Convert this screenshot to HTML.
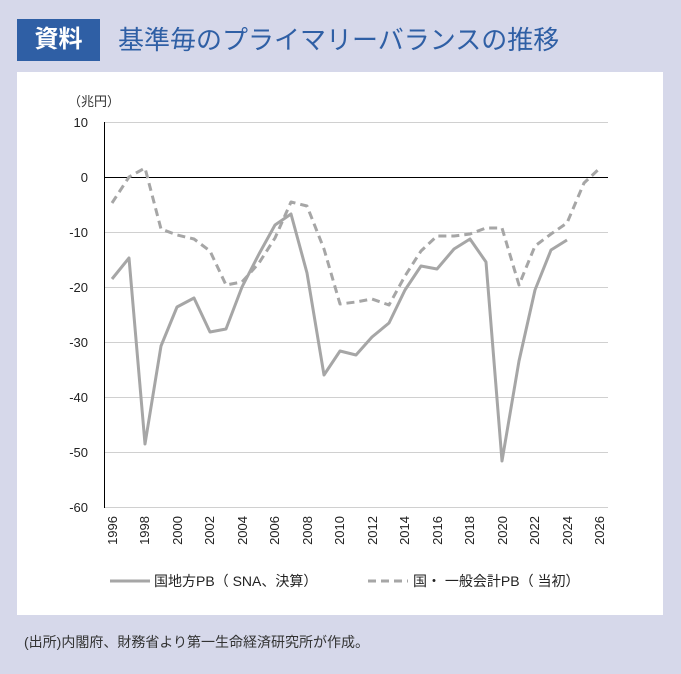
<!DOCTYPE html>
<html><head><meta charset="utf-8"><style>
body{margin:0;width:681px;height:674px;background:#d6d8ea;font-family:"Liberation Sans","Noto Sans CJK JP",sans-serif;position:relative;overflow:hidden}
.tag{position:absolute;left:17px;top:19px;width:83px;height:42px;background:#2f5fa5;color:#fff;font-size:24px;font-weight:bold;text-align:center;line-height:42px}
.title{position:absolute;left:118px;top:18px;font-size:26px;color:#2f5fa5;line-height:44px}
.panel{position:absolute;left:17px;top:72px;width:646px;height:543px;background:#fff}
.foot{position:absolute;left:24px;top:632px;font-size:14px;color:#333}
</style></head><body>
<div class="tag">資料</div>
<div class="title">基準毎のプライマリーバランスの推移</div>
<div class="panel"></div>
<svg width="681" height="674" style="position:absolute;left:0;top:0" font-family="Liberation Sans, Noto Sans CJK JP, sans-serif">
<text x="68" y="106" font-size="13" fill="#333">（兆円）</text>
<g stroke="#d0d0d0" stroke-width="1">
<line x1="104" y1="122.5" x2="608" y2="122.5"/><line x1="104" y1="232.5" x2="608" y2="232.5"/><line x1="104" y1="287.5" x2="608" y2="287.5"/><line x1="104" y1="342.5" x2="608" y2="342.5"/><line x1="104" y1="397.5" x2="608" y2="397.5"/><line x1="104" y1="452.5" x2="608" y2="452.5"/><line x1="104" y1="507.5" x2="608" y2="507.5"/>
</g>
<line x1="104" y1="177.5" x2="608" y2="177.5" stroke="#000" stroke-width="1"/>
<line x1="104.5" y1="122" x2="104.5" y2="508" stroke="#000" stroke-width="1"/>
<g font-size="13" fill="#222" text-anchor="end">
<text x="88" y="127">10</text><text x="88" y="182">0</text><text x="88" y="237">-10</text><text x="88" y="292">-20</text><text x="88" y="347">-30</text><text x="88" y="402">-40</text><text x="88" y="457">-50</text><text x="88" y="512">-60</text>
</g>
<g font-size="13" fill="#222" text-anchor="end">
<text transform="translate(117,516) rotate(-90)">1996</text>
<text transform="translate(149,516) rotate(-90)">1998</text>
<text transform="translate(182,516) rotate(-90)">2000</text>
<text transform="translate(214,516) rotate(-90)">2002</text>
<text transform="translate(247,516) rotate(-90)">2004</text>
<text transform="translate(279,516) rotate(-90)">2006</text>
<text transform="translate(312,516) rotate(-90)">2008</text>
<text transform="translate(344,516) rotate(-90)">2010</text>
<text transform="translate(377,516) rotate(-90)">2012</text>
<text transform="translate(409,516) rotate(-90)">2014</text>
<text transform="translate(442,516) rotate(-90)">2016</text>
<text transform="translate(474,516) rotate(-90)">2018</text>
<text transform="translate(507,516) rotate(-90)">2020</text>
<text transform="translate(539,516) rotate(-90)">2022</text>
<text transform="translate(572,516) rotate(-90)">2024</text>
<text transform="translate(604,516) rotate(-90)">2026</text>
</g>
<polyline fill="none" stroke="#a6a6a6" stroke-width="3" stroke-linejoin="round" points="112,279 129,258 145,444 161,346 177,307 194,298 210,332 226,329 242,287 259,254 275,225 291,214 307,273 324,375 340,351 356,355 372,337 389,323 405,290 421,266 437,269 454,249 470,239 486,262 502,461 519,361 535,290 551,250 567,240"/>
<polyline fill="none" stroke="#a6a6a6" stroke-width="3" stroke-dasharray="8,5" stroke-linejoin="round" points="112,203 129,177 145,168 161,229 177,235 194,239 210,251 226,285 242,282 259,263 275,238 291,202 307,206 324,249 340,304 356,302 372,299 389,305 405,276 421,251 437,236 454,236 470,234 486,228 502,228 519,285 535,246 551,234 567,223 584,183 600,168"/>
<line x1="110" y1="581" x2="150" y2="581" stroke="#a6a6a6" stroke-width="3"/>
<text x="154" y="586" font-size="14" fill="#222">国地方PB（ SNA、決算）</text>
<line x1="368" y1="581" x2="408" y2="581" stroke="#a6a6a6" stroke-width="3" stroke-dasharray="8,5"/>
<text x="413" y="586" font-size="14" fill="#222">国・ 一般会計PB（ 当初）</text>
</svg>
<div class="foot">(出所)内閣府、財務省より第一生命経済研究所が作成。</div>
</body></html>
